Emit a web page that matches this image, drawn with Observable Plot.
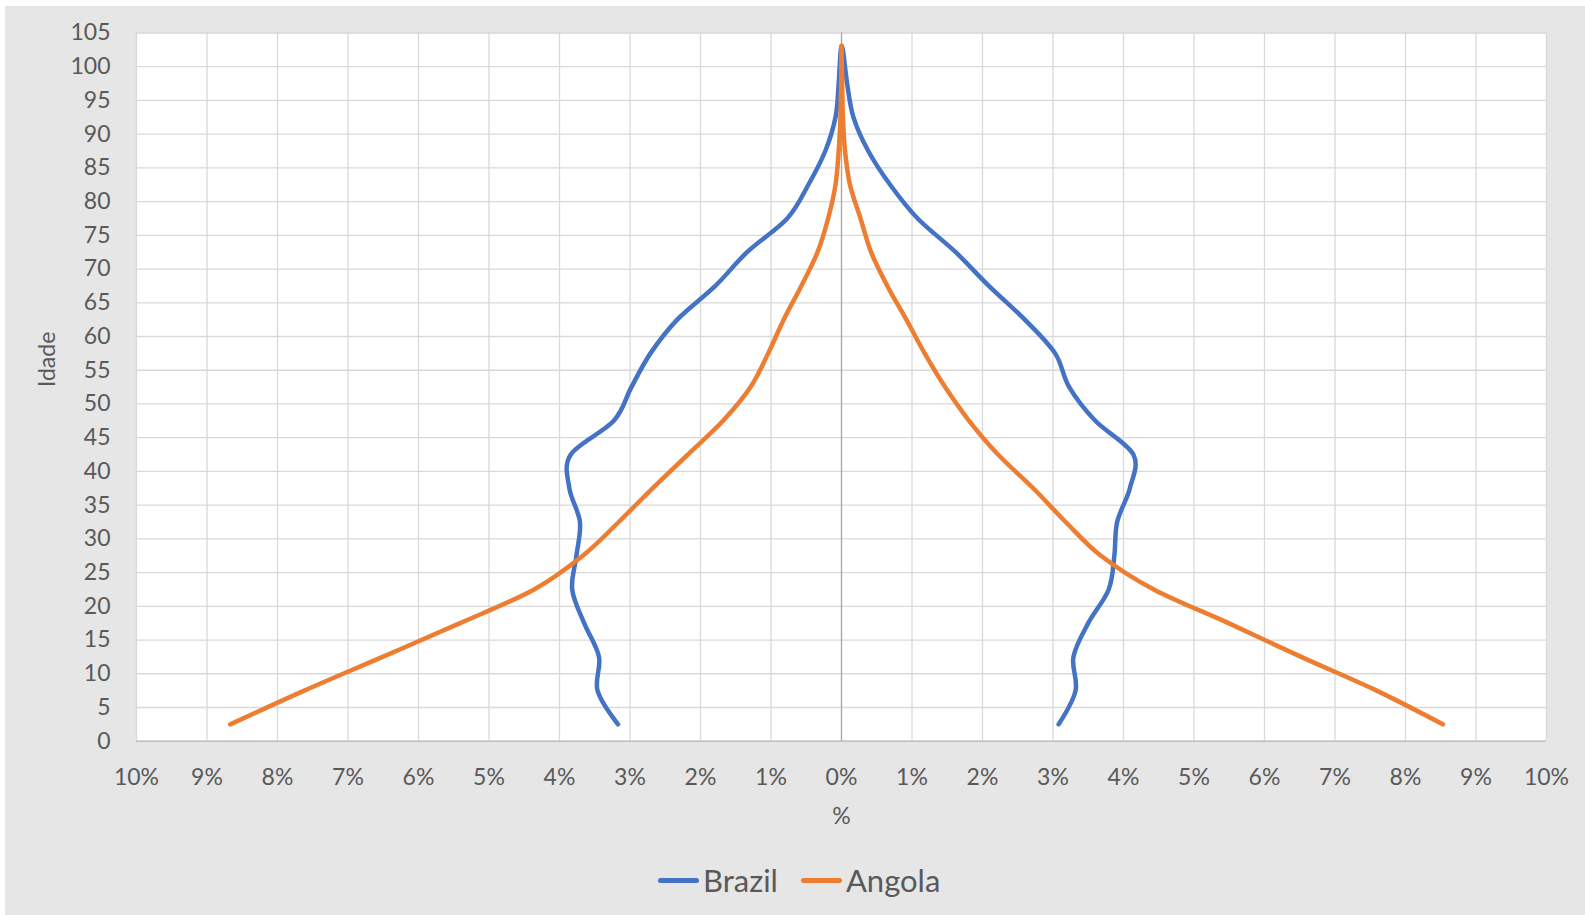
<!DOCTYPE html>
<html>
<head>
<meta charset="utf-8">
<script src="https://cdn.jsdelivr.net/npm/d3@7"></script>
<script src="https://cdn.jsdelivr.net/npm/@observablehq/plot@0.6"></script>
<style>
  html, body { margin: 0; padding: 0; background: #ffffff; width: 1585px; height: 915px; overflow: hidden; }
  #wrap { position: absolute; left: 5px; top: 6px; width: 1580px; height: 909px; background: #e6e6e6; font-family: Lato, sans-serif; }
  #chart { position: absolute; left: 0; top: 0; }
  #legend { position: absolute; left: 653px; top: 855px; display: flex; align-items: center; font-family: Lato, sans-serif; font-size: 31px; color: #595959; }
  .item { display: flex; align-items: center; margin-right: 23px; }
  .sw { width: 41px; height: 5px; border-radius: 3px; margin-right: 4px; }
</style>
</head>
<body>
<div id="wrap">
  <div id="chart"></div>
  <div id="legend"></div>
</div>
<script>
// Age group midpoints (years)
const ages = [2.5, 7.5, 12.5, 17.5, 22.5, 27.5, 32.5, 37.5, 42.5, 47.5, 52.5, 57.5, 62.5, 67.5, 72.5, 77.5, 82.5, 87.5, 92.5, 97.5, 102.5];

// Share of population (%) — left side (drawn negative) and right side
const brazilLeft  = [3.17, 3.46, 3.44, 3.65, 3.82, 3.76, 3.71, 3.86, 3.84, 3.23, 2.98, 2.71, 2.33, 1.79, 1.34, 0.77, 0.47, 0.23, 0.085, 0.04, 0.01];
const brazilRight = [3.08, 3.32, 3.29, 3.50, 3.79, 3.87, 3.91, 4.09, 4.14, 3.60, 3.23, 3.03, 2.60, 2.09, 1.62, 1.08, 0.69, 0.38, 0.17, 0.08, 0.02];
const angolaLeft  = [8.67, 7.62, 6.51, 5.41, 4.36, 3.67, 3.16, 2.68, 2.18, 1.68, 1.29, 1.04, 0.82, 0.57, 0.34, 0.19, 0.085, 0.04, 0.015, 0.005, 0.002];
const angolaRight = [8.53, 7.59, 6.52, 5.49, 4.43, 3.68, 3.18, 2.72, 2.22, 1.81, 1.47, 1.18, 0.92, 0.65, 0.42, 0.27, 0.12, 0.05, 0.02, 0.01, 0.002];

const countries = ["Brazil", "Angola"];
const colors = ["#4472c4", "#ed7d31"];

const xTicks = [-10, -9, -8, -7, -6, -5, -4, -3, -2, -1, 0, 1, 2, 3, 4, 5, 6, 7, 8, 9, 10];
const yTicks = [0, 5, 10, 15, 20, 25, 30, 35, 40, 45, 50, 55, 60, 65, 70, 75, 80, 85, 90, 95, 100, 105];

const xLabel = "%";
const yLabel = "Idade";

// Build one continuous path per country: left side bottom→top, then right side top→bottom
function buildSeries(name, left, right) {
  const rows = [];
  ages.forEach((a, i) => rows.push({country: name, age: a, pct: -left[i]}));
  for (let i = ages.length - 1; i >= 0; i--) rows.push({country: name, age: ages[i], pct: right[i]});
  return rows;
}
const data = [
  ...buildSeries("Brazil", brazilLeft, brazilRight),
  ...buildSeries("Angola", angolaLeft, angolaRight)
];

const fmt = d => Math.abs(d) + "%";

const chart = Plot.plot({
  width: 1580,
  height: 830,
  marginLeft: 131,
  marginRight: 39,
  marginTop: 26.5,
  marginBottom: 95.3,
  style: {background: "transparent", fontFamily: "Lato, sans-serif", color: "#595959"},
  x: {domain: [-10, 10], label: null},
  y: {domain: [0, 105], label: null},
  color: {domain: countries, range: colors},
  marks: [
    Plot.frame({fill: "white", stroke: null}),
    Plot.gridX(xTicks, {stroke: "#d9d9d9", strokeOpacity: 1, strokeWidth: 1.3}),
    Plot.gridY(yTicks, {stroke: "#d9d9d9", strokeOpacity: 1, strokeWidth: 1.3}),
    Plot.ruleX([0], {stroke: "#a6a6a6", strokeWidth: 1.2}),
    Plot.ruleY([0], {stroke: "#bfbfbf", strokeWidth: 1.6}),
    Plot.axisX(xTicks, {tickSize: 0, tickPadding: 27, tickFormat: fmt, fontSize: 23, fill: "#595959", label: null}),
    Plot.axisY(yTicks, {tickSize: 0, tickPadding: 26, fontSize: 23, fill: "#595959", label: null}),
    Plot.line(data, {x: "pct", y: "age", z: "country", stroke: "country", strokeWidth: 4.5,
      curve: "cardinal", tension: 0, strokeLinecap: "round", strokeLinejoin: "round"}),
    Plot.text([xLabel], {frameAnchor: "bottom", dy: 75, fontSize: 23, fill: "#595959", lineAnchor: "middle"}),
    Plot.text([yLabel], {frameAnchor: "left", dx: -89, rotate: -90, fontSize: 23, fill: "#595959", lineAnchor: "middle"})
  ]
});
document.getElementById("chart").appendChild(chart);

const legend = document.getElementById("legend");
countries.forEach((c, i) => {
  const item = document.createElement("div");
  item.className = "item";
  const sw = document.createElement("div");
  sw.className = "sw";
  sw.style.background = colors[i];
  const lab = document.createElement("span");
  lab.textContent = c;
  item.appendChild(sw);
  item.appendChild(lab);
  legend.appendChild(item);
});
</script>
</body>
</html>
